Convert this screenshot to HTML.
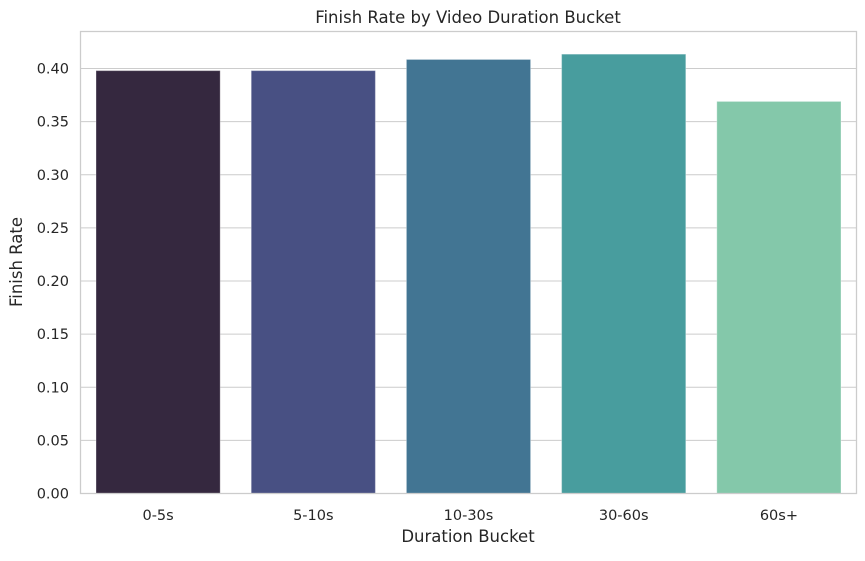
<!DOCTYPE html>
<html><head><meta charset="utf-8"><style>
body{margin:0;background:#fff;}
svg text{font-family:"DejaVu Sans","Liberation Sans",sans-serif;fill:#262626;}
</style></head><body>
<svg id="chart" width="865" height="556" xmlns="http://www.w3.org/2000/svg">
<text x="468" y="23" text-anchor="middle" font-size="16.5">Finish Rate by Video Duration Bucket</text>
<g id="grid"></g>
<g id="bars"></g>
<rect x="80.5" y="31.5" width="776" height="462" fill="none" stroke="#cccccc" stroke-width="1.3"/>
<g id="ticks"></g>
<text x="468" y="542" text-anchor="middle" font-size="16.5">Duration Bucket</text>
<text transform="translate(22,262) rotate(-90)" text-anchor="middle" font-size="16.5">Finish Rate</text>
</svg>
<script>
const categories=["0-5s","5-10s","10-30s","30-60s","60s+"];
const values=[0.398,0.398,0.4085,0.4135,0.369];
const colors=["#35283f","#485083","#427593","#489d9e","#84c8aa"];
const yTicks=[0,0.05,0.10,0.15,0.20,0.25,0.30,0.35,0.40];
const L=80.5,R=856.5,B=493.5;
const y=v=>B-v*1062.5;
const step=(R-L)/categories.length;
const x=i=>L+step*(i+0.5);
const NS="http://www.w3.org/2000/svg";
const g=document.getElementById('grid'),b=document.getElementById('bars'),t=document.getElementById('ticks');
yTicks.forEach(v=>{
 const l=document.createElementNS(NS,'line');
 
 
 l.setAttribute('x1',L);l.setAttribute('x2',R);l.setAttribute('y1',y(v));l.setAttribute('y2',y(v));
 l.setAttribute('stroke','#cccccc');l.setAttribute('stroke-width','1.1');g.appendChild(l);
 const tx=document.createElementNS(NS,'text');
 
 
 tx.setAttribute('x',69);tx.setAttribute('y',y(v)+5);tx.setAttribute('text-anchor','end');tx.setAttribute('font-size','14.5');
 tx.textContent=v.toFixed(2);t.appendChild(tx);
});
categories.forEach((c,i)=>{
 const w=step*0.8;
 const r=document.createElementNS(NS,'rect');
 
 
 r.setAttribute('x',x(i)-w/2);r.setAttribute('width',w);r.setAttribute('y',y(values[i]));r.setAttribute('height',B-y(values[i]));
 r.setAttribute('fill',colors[i]);r.setAttribute('stroke','#ffffff');r.setAttribute('stroke-opacity','0.3');b.appendChild(r);
 const tx=document.createElementNS(NS,'text');
 
 
 tx.setAttribute('x',x(i));tx.setAttribute('y',520);tx.setAttribute('text-anchor','middle');tx.setAttribute('font-size','14.5');
 tx.textContent=c;t.appendChild(tx);
});
</script>
</body></html>
